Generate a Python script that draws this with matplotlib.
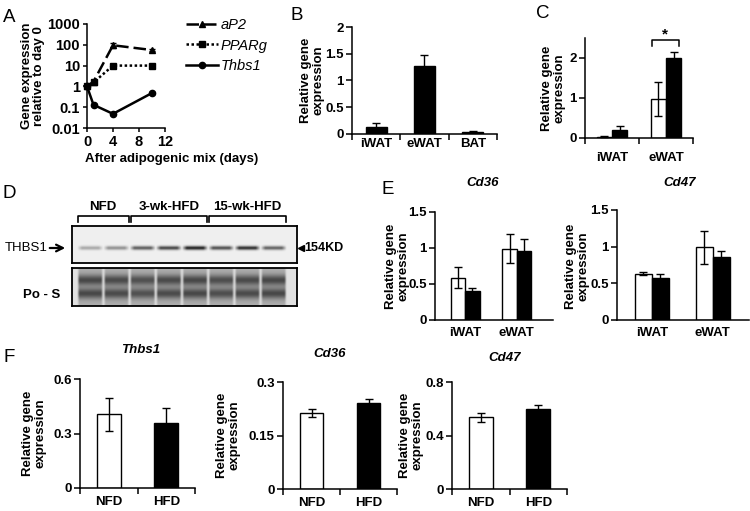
import numpy as np
import matplotlib
matplotlib.use("Agg")
import matplotlib.pyplot as plt
from matplotlib.lines import Line2D
from matplotlib.ticker import NullLocator

plt.rcParams['font.family'] = ['Liberation Sans', 'DejaVu Sans']
plt.rcParams['font.weight'] = 'bold'

W, H = 750, 511
fig = plt.figure(figsize=(7.5, 5.11), dpi=100)

# ---------------- data ----------------
days = [0, 1, 4, 10]
ap2 = [1, 1.7, 95, 56]
ap2_err = [0, 0.2, 25, 8]
pparg = [1, 1.55, 10, 10]
pparg_err = [0, 0.1, 1.2, 1.0]
thbs1_time = [1, 0.13, 0.048, 0.48]
thbs1_time_err = [0, 0.015, 0.005, 0.04]

b_tissues = ['iWAT', 'eWAT', 'BAT']
b_vals = [0.14, 1.28, 0.04]
b_errs = [0.06, 0.19, 0.01]

c_tissues = ['iWAT', 'eWAT']
c_nfd = [0.03, 0.97]
c_nfd_err = [0.01, 0.42]
c_hfd = [0.21, 1.99]
c_hfd_err = [0.08, 0.17]

e_tissues = ['iWAT', 'eWAT']
cd36_nfd = [0.59, 0.99]
cd36_nfd_err = [0.14, 0.20]
cd36_hfd = [0.40, 0.96]
cd36_hfd_err = [0.045, 0.16]
cd47_nfd = [0.63, 0.99]
cd47_nfd_err = [0.02, 0.22]
cd47_hfd = [0.57, 0.86]
cd47_hfd_err = [0.06, 0.08]

f_groups = ['NFD', 'HFD']
f_thbs1 = [0.405, 0.36]
f_thbs1_err = [0.09, 0.08]
f_cd36 = [0.213, 0.24]
f_cd36_err = [0.011, 0.011]
f_cd47 = [0.535, 0.60]
f_cd47_err = [0.035, 0.03]

blot_groups = ['NFD', '3-wk-HFD', '15-wk-HFD']
blot_lanes_per_group = [2, 3, 3]
thbs1_band = [0.30, 0.40, 0.62, 0.72, 0.88, 0.68, 0.82, 0.60]
ponceau_band = [0.72, 0.70, 0.66, 0.70, 0.72, 0.68, 0.70, 0.72]

# ---------------- helpers ----------------
def ax_px(l, t, r, b):
    return fig.add_axes([l / W, 1 - b / H, (r - l) / W, (b - t) / H])

def style(ax, fs=9.5):
    for s in ('top', 'right'):
        ax.spines[s].set_visible(False)
    for s in ('left', 'bottom'):
        ax.spines[s].set_linewidth(1.1)
    ax.tick_params(direction='out', length=4, width=1.1, labelsize=fs, pad=2)
    ax.set_facecolor('none')

def cat_axis(ax, labels, xlim, pad, boundary_ticks=True):
    n = len(labels)
    ax.set_xlim(*xlim)
    ax.set_xticks(range(n))
    ax.set_xticklabels(labels, fontweight='bold')
    ax.tick_params(axis='x', which='major', length=0, pad=pad)
    if boundary_ticks:
        ax.set_xticks([i - 0.5 for i in range(n + 1)], minor=True)
        ax.tick_params(axis='x', which='minor', length=4, width=1.1, direction='out')

ekw = dict(ecolor='black', elinewidth=1, capsize=3, capthick=1)

def pair_bars(ax, nfd, nfd_err, hfd, hfd_err, w):
    x = np.arange(len(nfd))
    ax.bar(x - w / 2, nfd, w, yerr=nfd_err, color='white', edgecolor='black', linewidth=1, error_kw=ekw)
    ax.bar(x + w / 2, hfd, w, yerr=hfd_err, color='black', edgecolor='black', linewidth=1, error_kw=ekw)

def ylab(x, y, s, fs=9.5):
    fig.text(x / W, 1 - y / H, s, rotation=90, ha='center', va='center', fontsize=fs,
             fontweight='bold', linespacing=1.05)

ov = fig.add_axes([0, 0, 1, 1])
ov.set_xlim(0, W)
ov.set_ylim(H, 0)
ov.axis('off')
ov.set_zorder(10)

def otext(x, y, s, **kw):
    ov.text(x, y, s, **kw)

# ---------------- Panel A ----------------
axA = ax_px(87, 24, 165, 128)
style(axA, 10.5)
axA.set_yscale('log')
axA.set_ylim(0.01, 1000)
axA.set_xlim(0, 12)
axA.set_xticks([0, 4, 8, 12])
axA.set_yticks([0.01, 0.1, 1, 10, 100, 1000])
axA.set_yticklabels(['0.01', '0.1', '1', '10', '100', '1000'])
axA.yaxis.set_minor_locator(NullLocator())
axA.tick_params(length=3, pad=2)
sA = [
    (ap2, ap2_err, (0, (5, 2)), '^', 'aP2'),
    (pparg, pparg_err, (0, (1, 1)), 's', 'PPARg'),
    (thbs1_time, thbs1_time_err, '-', 'o', 'Thbs1'),
]
handles = []
for vals, errs, ls, mk, lab in sA:
    axA.errorbar(days, vals, yerr=errs, color='black', ls=ls, lw=1.8, marker=mk, ms=4.5,
                 capsize=2, elinewidth=1, clip_on=False)
    handles.append(Line2D([], [], color='black', ls=ls, lw=1.8, marker=mk, ms=4.5))
fig.legend(handles, [s[4] for s in sA], loc='upper left', bbox_to_anchor=(186 / W, 1 - 18 / H),
           frameon=False, prop=dict(family='Liberation Sans', style='italic', weight='normal', size=10.5),
           handlelength=2.2, handletextpad=0.2, labelspacing=0.45, borderpad=0, borderaxespad=0,
           numpoints=1)
ylab(33, 76, 'Gene expression\nrelative to day 0')
otext(172, 159, 'After adipogenic mix (days)', ha='center', va='center', fontsize=9.5, fontweight='bold')

# ---------------- Panel B ----------------
axB = ax_px(352, 27, 497, 134)
style(axB)
axB.bar(range(len(b_vals)), b_vals, 0.43, yerr=b_errs, color='black', edgecolor='black', linewidth=1, error_kw=ekw)
axB.set_ylim(0, 2)
axB.set_yticks([0, 0.5, 1, 1.5, 2])
axB.set_yticklabels(['0', '0.5', '1', '1.5', '2'])
cat_axis(axB, b_tissues, (-0.5, 2.5), 3)
ylab(312, 80, 'Relative gene\nexpression')

# ---------------- Panel C ----------------
axC = ax_px(585, 38, 693, 138)
style(axC)
wC = 0.28
pair_bars(axC, c_nfd, c_nfd_err, c_hfd, c_hfd_err, wC)
axC.set_ylim(0, 2.5)
axC.set_yticks([0, 1, 2])
cat_axis(axC, c_tissues, (-0.5, 1.5), 10)
bx0, bx1 = 1 - wC * 0.95, 1 + wC * 0.85
axC.plot([bx0, bx0, bx1, bx1], [2.29, 2.45, 2.45, 2.29], color='black', lw=1.1, clip_on=False)
axC.text((bx0 + bx1) / 2, 2.6, '*', ha='center', va='center', fontsize=11, fontweight='bold', clip_on=False)
ylab(553, 88, 'Relative gene\nexpression')

# ---------------- Panel D (western blot) ----------------
n_l = len(thbs1_band)
lane_x0, lane_w = 5.0, 26.25
bw = 225.0

def lane_profile(cols, sharp):
    xx = np.linspace(0, bw, cols)
    idx = np.clip(((xx - lane_x0) // lane_w).astype(int), 0, n_l - 1)
    pos = np.clip((xx - lane_x0 - idx * lane_w) / lane_w, 0, 1)
    inside = (xx >= lane_x0) & (xx <= lane_x0 + n_l * lane_w)
    prof = np.where(inside, np.clip(np.sin(np.pi * pos) * sharp, 0, 1), 0.0)
    return idx, prof

cols = 450
idx1, prof1 = lane_profile(cols, 1.8)
yy1 = np.linspace(0, 37, 74)[:, None]
band1 = np.exp(-(yy1 - 22.0) ** 2 / (2 * 1.4 ** 2))
dark1 = np.array(thbs1_band)[idx1][None, :] * prof1[None, :] * band1
img1 = 0.94 - 0.92 * dark1
axD1 = ax_px(72, 226, 297, 263)
axD1.imshow(img1, cmap='gray', vmin=0, vmax=1, aspect='auto', extent=(0, bw, 37, 0), interpolation='bilinear')
axD1.set_xticks([]); axD1.set_yticks([])
for s in axD1.spines.values():
    s.set_linewidth(1.3)

idx2, prof2 = lane_profile(cols, 3.5)
yy2 = np.linspace(0, 38, 76)[:, None]
band2 = np.exp(-(yy2 - 12.0) ** 2 / (2 * 3.8 ** 2)) + np.exp(-(yy2 - 25.5) ** 2 / (2 * 3.8 ** 2))
dark2 = np.array(ponceau_band)[idx2][None, :] * prof2[None, :] * band2
base2 = 0.88 - 0.2 * prof2[None, :]
img2 = base2 - 0.55 * dark2
axD2 = ax_px(72, 268, 297, 306)
axD2.imshow(img2, cmap='gray', vmin=0, vmax=1, aspect='auto', extent=(0, bw, 38, 0), interpolation='bilinear')
axD2.set_xticks([]); axD2.set_yticks([])
for s in axD2.spines.values():
    s.set_linewidth(1.3)

start = 0
for g, n in zip(blot_groups, blot_lanes_per_group):
    x0 = 72 + lane_x0 + start * lane_w
    x1 = 72 + lane_x0 + (start + n) * lane_w
    ov.plot([x0 + 1, x0 + 1, x1 - 1, x1 - 1], [222, 216, 216, 222], color='black', lw=1.2)
    otext((x0 + x1) / 2, 207, g, ha='center', va='center', fontsize=9.5, fontweight='bold')
    start += n
otext(5, 248, 'THBS1', ha='left', va='center', fontsize=9.5, fontweight='normal')
ov.annotate('', xy=(68, 248), xytext=(47, 248),
            arrowprops=dict(arrowstyle='->', lw=1.6, color='black', mutation_scale=12))
ov.plot([301], [248], marker='<', color='black', ms=5)
otext(304, 248, '154KD', ha='left', va='center', fontsize=9, fontweight='bold')
otext(42, 295, 'Po - S', ha='center', va='center', fontsize=9.5, fontweight='bold')

# ---------------- Panel E ----------------
wE = 0.28
axE1 = ax_px(435, 212, 553, 320)
style(axE1)
pair_bars(axE1, cd36_nfd, cd36_nfd_err, cd36_hfd, cd36_hfd_err, wE)
axE1.set_ylim(0, 1.5)
axE1.set_yticks([0, 0.5, 1, 1.5])
axE1.set_yticklabels(['0', '0.5', '1', '1.5'])
cat_axis(axE1, e_tissues, (-0.58, 1.7), 5, boundary_ticks=False)
ylab(397, 266, 'Relative gene\nexpression')
otext(483, 183, 'Cd36', ha='center', va='center', fontsize=9.5, fontweight='bold', style='italic')

axE2 = ax_px(617, 210, 749, 320)
style(axE2)
pair_bars(axE2, cd47_nfd, cd47_nfd_err, cd47_hfd, cd47_hfd_err, wE)
axE2.set_ylim(0, 1.5)
axE2.set_yticks([0, 0.5, 1, 1.5])
axE2.set_yticklabels(['0', '0.5', '1', '1.5'])
cat_axis(axE2, e_tissues, (-0.574, 1.6), 5, boundary_ticks=False)
ylab(577, 266, 'Relative gene\nexpression')
otext(680, 183, 'Cd47', ha='center', va='center', fontsize=9.5, fontweight='bold', style='italic')

# ---------------- Panel F ----------------
f_specs = [
    ((80, 379, 195, 488), f_thbs1, f_thbs1_err, 0.6, [0, 0.3, 0.6], ['0', '0.3', '0.6'], 34, 'Thbs1', (141, 350)),
    ((283, 382, 397, 489), f_cd36, f_cd36_err, 0.3, [0, 0.15, 0.3], ['0', '0.15', '0.3'], 228, 'Cd36', (330, 354)),
    ((452, 382, 567, 489), f_cd47, f_cd47_err, 0.8, [0, 0.4, 0.8], ['0', '0.4', '0.8'], 411, 'Cd47', (505, 358)),
]
for (l, t, r, b), vals, errs, ymax, yt, ytl, ylx, title, tpos in f_specs:
    ax = ax_px(l, t, r, b)
    style(ax)
    ax.bar(range(2), vals, 0.42, yerr=errs, color=['white', 'black'], edgecolor='black',
           linewidth=1, error_kw=ekw)
    ax.set_ylim(0, ymax)
    ax.set_yticks(yt)
    ax.set_yticklabels(ytl)
    cat_axis(ax, f_groups, (-0.5, 1.5), 6)
    ylab(ylx, (t + b) / 2, 'Relative gene\nexpression')
    otext(tpos[0], tpos[1], title, ha='center', va='center', fontsize=9.5, fontweight='bold', style='italic')

# ---------------- panel letters ----------------
for s, (x, y) in zip('ABCDEF', [(9, 18), (297, 16), (543, 13), (9, 193), (388, 190), (9, 357)]):
    otext(x, y, s, ha='center', va='center', fontsize=13.5, fontweight='normal')

fig.savefig('out.png', dpi=100)
